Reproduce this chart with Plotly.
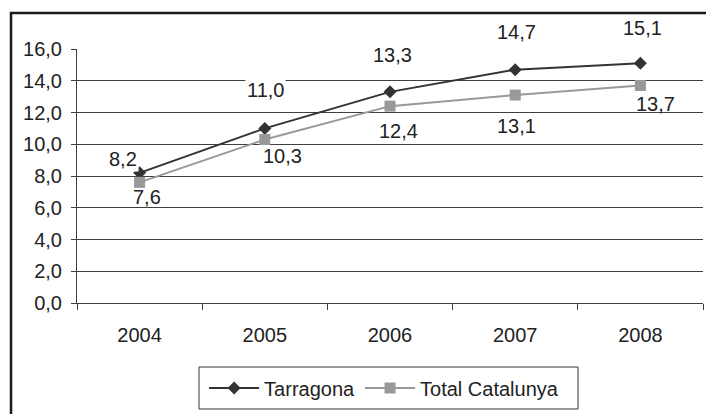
import plotly.graph_objects as go

years = ["2004", "2005", "2006", "2007", "2008"]
tarragona = [8.2, 11.0, 13.3, 14.7, 15.1]
catalunya = [7.6, 10.3, 12.4, 13.1, 13.7]
y_ticks_main = [0, 2, 4, 6, 8, 10, 12, 14]
y_tick_top = [16]

# label offsets (px) relative to points, as placed in the reference
tar_shift = [(-17, 14), (1, 38), (2, 37), (1, 38), (2, 35)]
cat_shift = [(7, -15), (18, -17), (8, -25), (1, -31), (15, -18)]

FONT = "Liberation Sans, Arial, sans-serif"
TXT = "#222222"
GRID = "#404040"

def fmt(v):
    return f"{v:.1f}".replace(".", ",")

fig = go.Figure()
fig.add_trace(go.Scatter(
    x=years, y=tarragona, name="Tarragona", mode="lines+markers",
    line=dict(color="#333333", width=2),
    marker=dict(symbol="diamond", size=10, color="#333333"),
))
fig.add_trace(go.Scatter(
    x=years, y=catalunya, name="Total Catalunya", mode="lines+markers",
    line=dict(color="#999999", width=2),
    marker=dict(symbol="square", size=11, color="#999999"),
))
# invisible helper trace so the overlay axis (top tick 16,0) is drawn
fig.add_trace(go.Scatter(
    x=years, y=tarragona, yaxis="y2", mode="none", showlegend=False,
    hoverinfo="skip",
))

for i, (v, (dx, dy)) in enumerate(zip(tarragona, tar_shift)):
    fig.add_annotation(x=i, y=v, xref="x", yref="y", text=fmt(v), showarrow=False,
                       xshift=dx, yshift=dy, bgcolor="white",
                       font=dict(family=FONT, size=20, color=TXT))
for i, (v, (dx, dy)) in enumerate(zip(catalunya, cat_shift)):
    fig.add_annotation(x=i, y=v, xref="x", yref="y", text=fmt(v), showarrow=False,
                       xshift=dx, yshift=dy,
                       font=dict(family=FONT, size=20, color=TXT))

# outer chart frame (left and top visible)
fig.add_shape(type="rect", xref="paper", yref="paper",
              x0=-0.1054, x1=1.2, y0=1.1417, y1=-0.6,
              line=dict(color="#1a1a1a", width=2.5), layer="above")
# legend box
fig.add_shape(type="rect", xref="paper", yref="paper",
              x0=0.1949, x1=0.8003, y0=-0.252, y1=-0.4173,
              line=dict(color="#333333", width=1), layer="above")

fig.update_layout(
    width=714, height=414,
    margin=dict(l=69, r=19, t=41, b=119),
    paper_bgcolor="white", plot_bgcolor="white",
    separators=",.",
    font=dict(family=FONT, size=20, color=TXT),
    showlegend=True,
    legend=dict(orientation="h", x=0.4906, xanchor="center", y=-0.3346, yanchor="middle",
                borderwidth=0, itemwidth=50, bgcolor="rgba(0,0,0,0)",
                font=dict(family=FONT, size=20, color=TXT)),
    xaxis=dict(type="category", range=[-0.5, 4.5], tickson="boundaries",
               ticks="outside", ticklen=6, tickcolor=GRID, showgrid=False,
               showline=True, linecolor=GRID, linewidth=1,
               ticklabelstandoff=14,
               tickfont=dict(family=FONT, size=20, color=TXT)),
    yaxis=dict(range=[0, 16], tickvals=y_ticks_main, tickformat=".1f",
               ticks="outside", ticklen=5, tickcolor=GRID,
               showgrid=True, gridcolor=GRID, gridwidth=1,
               showline=True, linecolor=GRID, linewidth=1, zeroline=False,
               ticklabelstandoff=5,
               tickfont=dict(family=FONT, size=20, color=TXT)),
    yaxis2=dict(range=[0, 16], tickvals=y_tick_top, tickformat=".1f",
                overlaying="y", side="left", anchor="x",
                ticks="outside", ticklen=5, tickcolor=GRID,
                showgrid=True, gridcolor="#e6e6e6", gridwidth=1,
                showline=False, zeroline=False,
                ticklabelstandoff=5,
                tickfont=dict(family=FONT, size=20, color=TXT)),
)

fig.write_html("out.html")
